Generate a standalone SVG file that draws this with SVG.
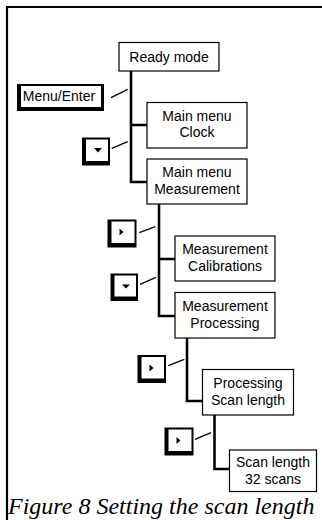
<svg xmlns="http://www.w3.org/2000/svg" width="322" height="520" viewBox="0 0 322 520">
  <defs>
    <style>
      .box { fill: #fff; stroke: #000; stroke-width: 1.2; }
      .lbl { font-family: "Liberation Sans", Arial, sans-serif; font-size: 14px; fill: #000; text-anchor: middle; }
      .trunk { fill: none; stroke: #000; stroke-width: 2.6; }
      .tick { stroke: #000; stroke-width: 1.3; }
      .cap { fill: #000; }
      .face { fill: #fff; }
      .caption { font-family: "Liberation Serif", "Times New Roman", serif; font-style: italic; font-size: 24px; fill: #000; }
    </style>
  </defs>

  <rect width="322" height="520" fill="#fff"/>

  <!-- frame (top and left edges) -->
  <path d="M7 520 V7 H322" fill="none" stroke="#000" stroke-width="2.2"/>

  <!-- connectors -->
  <g id="connectors">
    <path class="trunk" d="M131 71 V182 H147 M131 125 H147"/>
    <path class="trunk" d="M159 204 V316 H175 M159 259 H175"/>
    <path class="trunk" d="M187 338 V401 H202"/>
    <path class="trunk" d="M214.5 415 V469 H229"/>
    <line class="tick" x1="111" y1="97.7" x2="127.7" y2="89.3"/>
    <line class="tick" x1="111.7" y1="148.3" x2="127.7" y2="141.7"/>
    <line class="tick" x1="139.3" y1="232.7" x2="155.3" y2="226.7"/>
    <line class="tick" x1="140" y1="284.3" x2="156" y2="277.3"/>
    <line class="tick" x1="168.3" y1="365.7" x2="184.3" y2="359.3"/>
    <line class="tick" x1="195" y1="439.3" x2="211" y2="432.7"/>
  </g>

  <!-- menu states -->
  <g id="ready-mode">
    <rect class="box" x="119" y="42.5" width="100" height="28.5"/>
    <text class="lbl" x="169" y="61.5">Ready mode</text>
  </g>
  <g id="main-menu-clock">
    <rect class="box" x="147" y="102.5" width="100" height="45.5"/>
    <text class="lbl" x="197" y="121">Main menu</text>
    <text class="lbl" x="197" y="137">Clock</text>
  </g>
  <g id="main-menu-measurement">
    <rect class="box" x="147" y="159" width="100" height="45"/>
    <text class="lbl" x="197" y="177">Main menu</text>
    <text class="lbl" x="197" y="194">Measurement</text>
  </g>
  <g id="measurement-calibrations">
    <rect class="box" x="175" y="236" width="100" height="45"/>
    <text class="lbl" x="225" y="254">Measurement</text>
    <text class="lbl" x="225" y="271">Calibrations</text>
  </g>
  <g id="measurement-processing">
    <rect class="box" x="175" y="292.5" width="100" height="45.5"/>
    <text class="lbl" x="225" y="311">Measurement</text>
    <text class="lbl" x="225" y="328">Processing</text>
  </g>
  <g id="processing-scan-length">
    <rect class="box" x="202.5" y="369.5" width="91" height="45.5"/>
    <text class="lbl" x="248" y="388">Processing</text>
    <text class="lbl" x="248" y="405">Scan length</text>
  </g>
  <g id="scan-length-32">
    <rect class="box" x="229.5" y="450" width="87" height="41.5"/>
    <text class="lbl" x="273" y="467">Scan length</text>
    <text class="lbl" x="273" y="484">32 scans</text>
  </g>

  <!-- keys -->
  <g id="key-menu-enter">
    <rect class="cap" x="17" y="84" width="87" height="27"/>
    <rect class="face" x="21" y="86" width="80" height="21"/>
    <text class="lbl" x="59" y="101">Menu/Enter</text>
  </g>
  <g id="key-down-1">
    <rect class="cap" x="82" y="137.5" width="28" height="28"/>
    <rect class="face" x="86" y="139.5" width="22" height="21.5"/>
    <polygon points="94,148 102,148 98,152.5" fill="#000"/>
  </g>
  <g id="key-right-1">
    <rect class="cap" x="107.5" y="219.5" width="29" height="28"/>
    <rect class="face" x="111.5" y="221.5" width="23" height="21.5"/>
    <polygon points="119.5,228.5 119.5,235.5 123.5,232" fill="#000"/>
  </g>
  <g id="key-down-2">
    <rect class="cap" x="110.5" y="273.5" width="27.5" height="27.5"/>
    <rect class="face" x="114.5" y="275.5" width="21.5" height="21"/>
    <polygon points="122,284.5 130,284.5 126,288.5" fill="#000"/>
  </g>
  <g id="key-right-2">
    <rect class="cap" x="137.5" y="355" width="28.5" height="28"/>
    <rect class="face" x="141.5" y="357" width="22.5" height="21.5"/>
    <polygon points="149.5,364.5 149.5,371.5 153.5,368" fill="#000"/>
  </g>
  <g id="key-right-3">
    <rect class="cap" x="164.5" y="427.5" width="29" height="28"/>
    <rect class="face" x="168.5" y="429.5" width="23" height="21.5"/>
    <polygon points="176.5,437 176.5,444 180.5,440.5" fill="#000"/>
  </g>

  <text class="caption" x="8" y="514">Figure 8 Setting the scan length</text>
</svg>
